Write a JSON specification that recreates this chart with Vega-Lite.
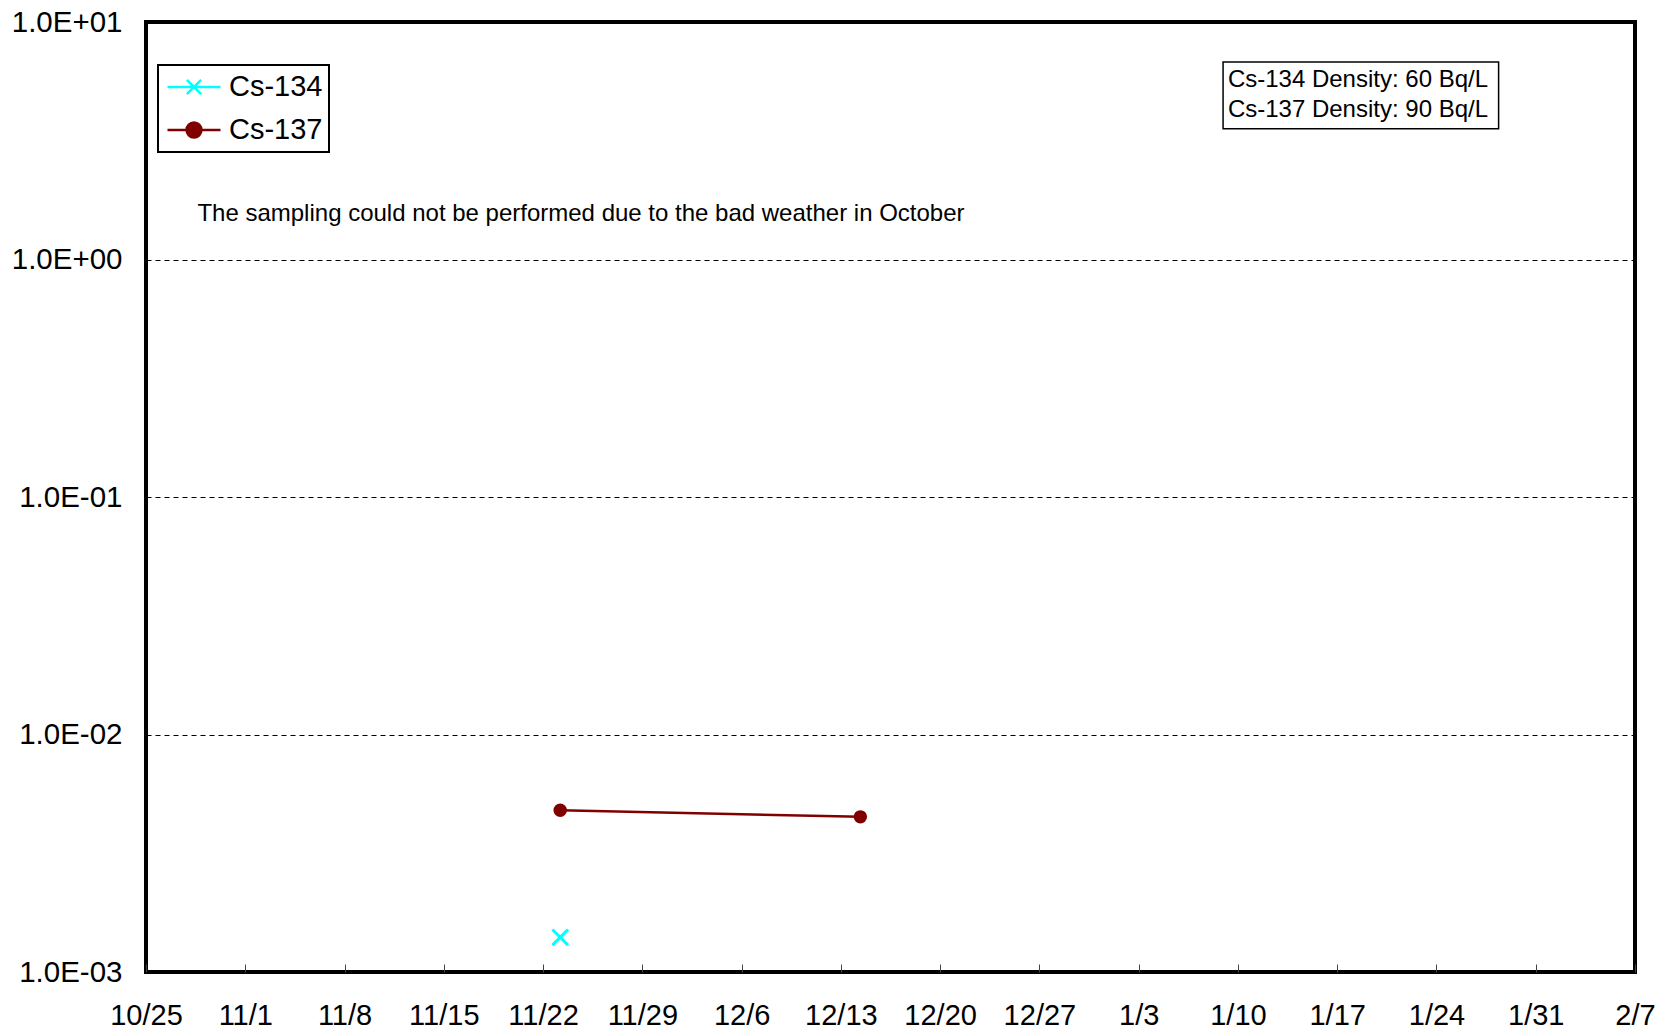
{
  "$schema": "https://vega.github.io/schema/vega-lite/v6.json",
  "width": 1489,
  "height": 950,
  "autosize": {"type": "none"},
  "padding": {"left": 146, "top": 22, "right": 28, "bottom": 60},
  "background": "white",
  "datasets": {
    "measurements": [
      {"date": "2012-11-23T05:00:00Z", "value": 0.0048, "series": "Cs-137"},
      {"date": "2012-12-14T09:00:00Z", "value": 0.0045, "series": "Cs-137"},
      {"date": "2012-11-23T05:00:00Z", "value": 0.0014, "series": "Cs-134"}
    ],
    "notes": [
      {"date": "2012-10-28T15:00:00Z", "value": 1.56, "label": "The sampling could not be performed due to the bad weather in  October"}
    ],
    "densityBox": [
      {"date": "2013-01-08T22:50:00Z", "date2": "2013-01-28T09:10:00Z", "value": 6.79, "value2": 3.55}
    ],
    "densityText": [
      {"date": "2013-01-09T07:00:00Z", "value": 5.70, "label": "Cs-134 Density: 60 Bq/L"},
      {"date": "2013-01-09T07:00:00Z", "value": 4.27, "label": "Cs-137 Density: 90 Bq/L"}
    ]
  },
  "encoding": {
    "x": {
      "field": "date",
      "type": "temporal",
      "scale": {
        "type": "utc",
        "domain": [
          {"year": 2012, "month": 10, "date": 25, "utc": true},
          {"year": 2013, "month": 2, "date": 7, "utc": true}
        ]
      },
      "axis": {
        "title": null,
        "values": [
          {"year": 2012, "month": 10, "date": 25, "utc": true},
          {"year": 2012, "month": 11, "date": 1, "utc": true},
          {"year": 2012, "month": 11, "date": 8, "utc": true},
          {"year": 2012, "month": 11, "date": 15, "utc": true},
          {"year": 2012, "month": 11, "date": 22, "utc": true},
          {"year": 2012, "month": 11, "date": 29, "utc": true},
          {"year": 2012, "month": 12, "date": 6, "utc": true},
          {"year": 2012, "month": 12, "date": 13, "utc": true},
          {"year": 2012, "month": 12, "date": 20, "utc": true},
          {"year": 2012, "month": 12, "date": 27, "utc": true},
          {"year": 2013, "month": 1, "date": 3, "utc": true},
          {"year": 2013, "month": 1, "date": 10, "utc": true},
          {"year": 2013, "month": 1, "date": 17, "utc": true},
          {"year": 2013, "month": 1, "date": 24, "utc": true},
          {"year": 2013, "month": 1, "date": 31, "utc": true},
          {"year": 2013, "month": 2, "date": 7, "utc": true}
        ],
        "labelExpr": "utcFormat(datum.value, '%-m/%-d')",
        "grid": false,
        "domain": false,
        "ticks": true,
        "tickSize": -8,
        "tickColor": "#444444",
        "tickWidth": 1,
        "labelPadding": 37,
        "labelFontSize": 29,
        "labelFont": "Liberation Sans",
        "labelColor": "black",
        "labelFlush": false,
        "labelOverlap": false,
        "labelBound": false
      }
    },
    "y": {
      "field": "value",
      "type": "quantitative",
      "scale": {"type": "log", "domain": [0.001, 10], "nice": false},
      "axis": {
        "title": null,
        "values": [0.001, 0.01, 0.1, 1, 10],
        "labelExpr": "'1.0E' + (datum.value >= 1 ? '+' : '-') + '0' + abs(round(log(datum.value) / LN10))",
        "grid": true,
        "gridDash": [5, 4],
        "gridColor": "black",
        "gridWidth": 1,
        "ticks": false,
        "domain": false,
        "labelPadding": 24,
        "labelFontSize": 29.5,
        "labelFont": "Liberation Sans",
        "labelColor": "black",
        "labelFlush": false,
        "labelOverlap": false,
        "labelBound": false
      }
    }
  },
  "layer": [
    {
      "data": {"name": "densityBox"},
      "mark": {"type": "rect", "fill": "white", "stroke": "black", "strokeWidth": 1.5},
      "encoding": {
        "x2": {"field": "date2"},
        "y2": {"field": "value2"}
      }
    },
    {
      "data": {"name": "densityText"},
      "mark": {"type": "text", "align": "left", "baseline": "middle", "fontSize": 24, "font": "Liberation Sans", "color": "black"},
      "encoding": {"text": {"field": "label"}}
    },
    {
      "data": {"name": "notes"},
      "mark": {"type": "text", "align": "left", "baseline": "middle", "fontSize": 24, "font": "Liberation Sans", "color": "black"},
      "encoding": {"text": {"field": "label"}}
    },
    {
      "data": {"name": "measurements"},
      "transform": [{"filter": "datum.series == 'Cs-137'"}],
      "mark": {"type": "line", "strokeWidth": 2.5},
      "encoding": {
        "color": {
          "field": "series",
          "type": "nominal",
          "scale": {"domain": ["Cs-134", "Cs-137"], "range": ["#00FFFF", "#800000"]},
          "legend": {
            "title": null,
            "orient": "none",
            "legendX": 12,
            "legendY": 43,
            "direction": "vertical",
            "padding": 6,
            "strokeColor": "black",
            "fillColor": "white",
            "symbolSize": 2809,
            "symbolStrokeWidth": 2.5,
            "symbolOffset": 2,
            "labelOffset": 7,
            "clipHeight": 32,
            "rowPadding": 11,
            "labelFontSize": 29,
            "labelFont": "Liberation Sans",
            "labelColor": "black",
            "labelLimit": 300,
            "encode": {
              "symbols": {
                "update": {
                  "shape": {"signal": "datum.value === 'Cs-134' ? 'M-1,0L1,0M-0.27,-0.27L0.27,0.27M-0.27,0.27L0.27,-0.27' : 'M-1,0L1,0M-0.28,0A0.28,0.28,0,1,0,0.28,0A0.28,0.28,0,1,0,-0.28,0Z'"},
                  "fill": {"signal": "datum.value === 'Cs-134' ? 'transparent' : '#800000'"},
                  "stroke": {"signal": "datum.value === 'Cs-134' ? '#00FFFF' : '#800000'"},
                  "strokeWidth": {"value": 2.5},
                  "opacity": {"value": 1},
                  "size": {"value": 2809}
                }
              }
            }
          }
        }
      }
    },
    {
      "data": {"name": "measurements"},
      "transform": [{"filter": "datum.series == 'Cs-137'"}],
      "mark": {"type": "point", "shape": "circle", "filled": true, "size": 180, "color": "#800000", "opacity": 1}
    },
    {
      "data": {"name": "measurements"},
      "transform": [{"filter": "datum.series == 'Cs-134'"}],
      "mark": {"type": "point", "shape": "M-1,-1L1,1M-1,1L1,-1", "filled": false, "size": 243, "color": "#00FFFF", "strokeWidth": 3, "opacity": 1}
    }
  ],
  "config": {
    "view": {"stroke": "black", "strokeWidth": 4},
    "legend": {"strokeWidth": 2},
    "font": "Liberation Sans"
  }
}
